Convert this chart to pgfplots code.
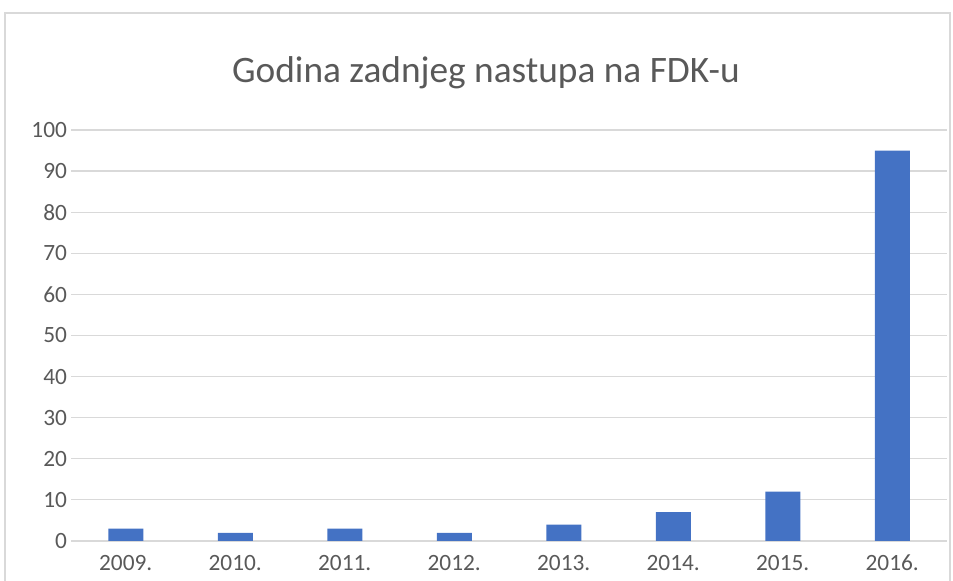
\documentclass[border=0pt]{standalone}
\usepackage{pgfplots}
\pgfplotsset{compat=1.18}
\usepackage{fontspec}
\setmainfont{Carlito}
\definecolor{barc}{HTML}{4472C4}
\definecolor{txt}{HTML}{595959}
\definecolor{gridc}{HTML}{D9D9D9}
\begin{document}
\begin{tikzpicture}
\path[use as bounding box] (0pt,0pt) rectangle (714.75pt,435.75pt);
\draw[gridc, line width=1pt] (3.75pt,-5pt) -- (3.75pt,426pt) -- (712.5pt,426pt) -- (712.5pt,-5pt);
\node[txt, font=\fontsize{28}{32}\selectfont] at (364.5pt,381pt) {Godina zadnjeg nastupa na FDK-u};
\begin{axis}[at={(53.25pt,30pt)}, anchor=south west, scale only axis,
  width=657pt, height=308.25pt,
  ymin=0, ymax=100, xmin=-0.5, xmax=7.5,
  ytick={0,10,...,100}, xtick={0,...,7},
  xticklabels={2009.,2010.,2011.,2012.,2013.,2014.,2015.,2016.},
  ymajorgrids, grid style={gridc, line width=0.9pt},
  axis line style={draw=none}, tick style={draw=none},
  ticklabel style={txt, font=\fontsize{17.5}{20}\selectfont},
  /pgf/number format/assume math mode=true,
  yticklabel style={anchor=east, xshift=0.5pt},
  xticklabel style={anchor=base, yshift=-22.5pt},
]
\addplot[ybar, bar width=26.25pt, fill=barc, draw=none] coordinates {
(0,3) (1,2) (2,3) (3,2) (4,4) (5,7) (6,12) (7,95)};
\end{axis}
\end{tikzpicture}
\end{document}
